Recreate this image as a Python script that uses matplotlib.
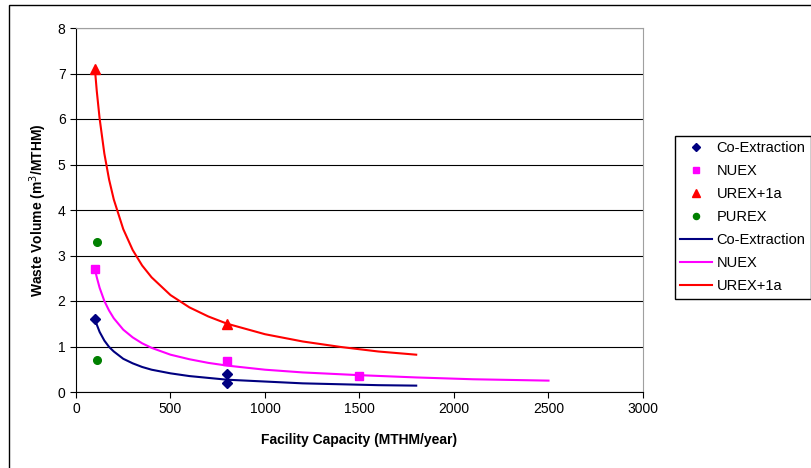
import matplotlib.pyplot as plt
from matplotlib.patches import Rectangle

plt.rcParams['font.family'] = ['Liberation Sans', 'DejaVu Sans']

# measured data points
coex_x = [100, 800, 800]
coex_y = [1.6, 0.4, 0.2]
nuex_x = [100, 800, 1500]
nuex_y = [2.7, 0.68, 0.35]
urex_x = [100, 800]
urex_y = [7.1, 1.5]
purex_x = [110, 110]
purex_y = [3.3, 0.7]

# trend curves
coex_fit_x = [100, 110, 125, 150, 175, 200, 250, 300, 350, 400, 500, 600, 700, 800, 1000, 1200, 1400, 1600, 1800]
coex_fit_y = [1.6, 1.48, 1.32, 1.13, 0.99, 0.89, 0.73, 0.63, 0.55, 0.49, 0.41, 0.35, 0.31, 0.27, 0.23, 0.19, 0.17, 0.15, 0.14]
nuex_fit_x = [100, 110, 125, 150, 175, 200, 250, 300, 350, 400, 500, 600, 700, 800, 1000, 1200, 1500, 1800, 2100, 2500]
nuex_fit_y = [2.7, 2.52, 2.29, 2.0, 1.79, 1.62, 1.37, 1.2, 1.07, 0.97, 0.82, 0.72, 0.64, 0.58, 0.49, 0.43, 0.37, 0.32, 0.28, 0.25]
urex_fit_x = [100, 110, 125, 150, 175, 200, 250, 300, 350, 400, 500, 600, 700, 800, 1000, 1200, 1400, 1600, 1800]
urex_fit_y = [7.1, 6.61, 6.01, 5.24, 4.67, 4.23, 3.58, 3.12, 2.78, 2.52, 2.13, 1.86, 1.66, 1.5, 1.27, 1.11, 0.99, 0.89, 0.82]

fig = plt.figure(figsize=(8.12, 4.68), dpi=100)
ax = fig.add_axes([76/812, 1 - 392/468, 567/812, 364/468])

# outer chart border
fig.patches.append(Rectangle((9/812, -0.01), 1.2, 1 - 5/468 + 0.01, transform=fig.transFigure,
                             fill=False, edgecolor='black', linewidth=1.0))

ax.plot(coex_x, coex_y, 'D', color='#000080', markersize=5, label='Co-Extraction', linestyle='none', zorder=4)
ax.plot(nuex_x, nuex_y, 's', color='#FF00FF', markersize=6, label='NUEX', linestyle='none', zorder=4)
ax.plot(urex_x, urex_y, '^', color='#FF0000', markersize=6.5, label='UREX+1a', linestyle='none', zorder=4)
ax.plot(purex_x, purex_y, 'o', color='#008000', markersize=5.5, label='PUREX', linestyle='none', zorder=4)
ax.plot(coex_fit_x, coex_fit_y, color='#000080', linewidth=1.5, label='Co-Extraction', zorder=3)
ax.plot(nuex_fit_x, nuex_fit_y, color='#FF00FF', linewidth=1.5, label='NUEX', zorder=3)
ax.plot(urex_fit_x, urex_fit_y, color='#FF0000', linewidth=1.5, label='UREX+1a', zorder=3)

ax.set_xlim(0, 3000)
ax.set_ylim(0, 8)
ax.set_xticks(range(0, 3001, 500))
ax.set_yticks(range(0, 9))
ax.grid(axis='y', color='black', linewidth=0.8)
ax.set_axisbelow(True)
ax.spines['top'].set_color('#A0A0A0')
ax.spines['right'].set_color('#A0A0A0')
ax.tick_params(direction='out', length=4, labelsize=10, color='black')

ax.set_xlabel('Facility Capacity (MTHM/year)', fontsize=10, fontweight='bold', labelpad=12)
ax.set_ylabel('Waste Volume (m$^3$/MTHM)', fontsize=10, fontweight='bold', labelpad=6)

ax.legend(loc='center left', bbox_to_anchor=(599/567, 0.48), fontsize=10.5,
          frameon=True, fancybox=False, edgecolor='black', framealpha=1, markerscale=0.8,
          handlelength=2.2, borderpad=0.35, labelspacing=0.62, handletextpad=0.3,
          borderaxespad=0)

plt.savefig('out.png', dpi=100)
